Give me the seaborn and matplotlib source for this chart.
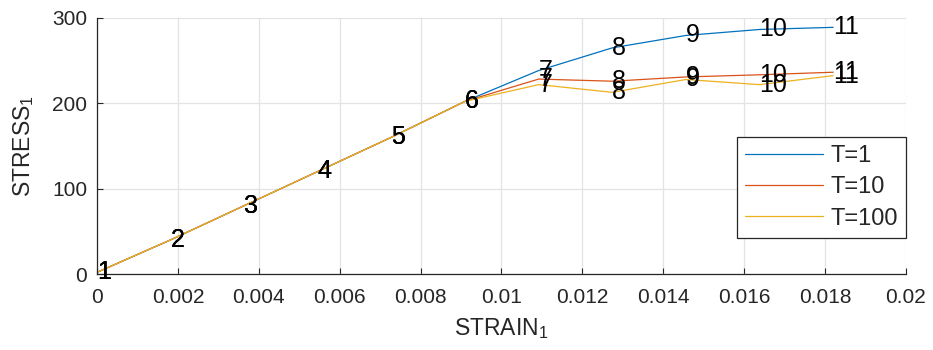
import matplotlib
matplotlib.use("Agg")
import matplotlib.pyplot as plt
import pandas as pd
import seaborn as sns

# strain values at the 11 numbered points
strain = [0.0, 0.00182, 0.00364, 0.00546, 0.00728, 0.0091,
          0.01092, 0.01274, 0.01456, 0.01638, 0.0182]

# stress for each T
stress_t1 = [2, 40, 80, 120, 160, 202, 238, 264.5, 279, 286, 288.5]
stress_t10 = [2, 40, 80, 120, 160, 202, 228, 225.5, 230.5, 233, 236]
stress_t100 = [2, 40, 80, 120, 160, 202, 221.5, 212.5, 227.5, 221.5, 232]

series_names = ["T=1", "T=10", "T=100"]
colors = ["#0072BD", "#D95319", "#EDB120"]

xticks = [0, 0.002, 0.004, 0.006, 0.008, 0.01, 0.012, 0.014, 0.016, 0.018, 0.02]
xtick_labels = ["0", "0.002", "0.004", "0.006", "0.008", "0.01",
                "0.012", "0.014", "0.016", "0.018", "0.02"]
yticks = [0, 100, 200, 300]

sns.set_theme(style="whitegrid")
plt.rcParams["font.family"] = ["Liberation Sans", "DejaVu Sans"]
plt.rcParams["mathtext.fontset"] = "custom"
plt.rcParams["mathtext.rm"] = "Liberation Sans"

rows = []
for name, vals in zip(series_names, [stress_t1, stress_t10, stress_t100]):
    for i, (s, v) in enumerate(zip(strain, vals)):
        rows.append({"strain": s, "stress": v, "T": name, "pt": i + 1})
df = pd.DataFrame(rows)

fig = plt.figure(figsize=(9.33, 3.5), dpi=100)
ax = fig.add_axes([0.104, 0.217, 0.867, 0.733])
ax.set_facecolor("white")

sns.lineplot(data=df, x="strain", y="stress", hue="T", palette=colors,
             sort=False, estimator=None, linewidth=0.9, ax=ax)

# point numbers next to each vertex
for name in series_names:
    sub = df[df["T"] == name]
    for _, r in sub.iterrows():
        ax.text(r["strain"], r["stress"], str(r["pt"]), ha="left", va="center",
                fontsize=18, color="black")

ax.set_xlim(0, 0.02)
ax.set_ylim(0, 300)
ax.set_xticks(xticks)
ax.set_xticklabels(xtick_labels)
ax.set_yticks(yticks)

ax.grid(True, color="#e3e3e3", linewidth=0.9)
for side in ["top", "right"]:
    ax.spines[side].set_visible(False)
for side in ["left", "bottom"]:
    ax.spines[side].set_color("#262626")
    ax.spines[side].set_linewidth(0.9)

ax.tick_params(axis="both", direction="in", length=4, width=0.8,
               colors="#262626", labelsize=15, labelcolor="#262626",
               left=True, bottom=True)
ax.tick_params(axis="x", pad=10)
ax.tick_params(axis="y", pad=7)

ax.set_xlabel(r"STRAIN$_\mathregular{1}$", fontsize=16.5, color="#262626")
ax.set_ylabel(r"STRESS$_\mathregular{1}$", fontsize=16.5, color="#262626")
ax.xaxis.set_label_coords(0.5, -0.165)
ax.yaxis.set_label_coords(-0.075, 0.5)

leg = ax.legend(loc="upper right", bbox_to_anchor=(1.0, 0.536),
                borderaxespad=0, fontsize=17, frameon=True, fancybox=False,
                handlelength=3.3, handletextpad=0.3, labelspacing=0.4,
                borderpad=0.35)
leg.get_frame().set_edgecolor("#262626")
leg.get_frame().set_linewidth(0.9)
leg.get_frame().set_alpha(1)

fig.savefig("out.png", dpi=100)
